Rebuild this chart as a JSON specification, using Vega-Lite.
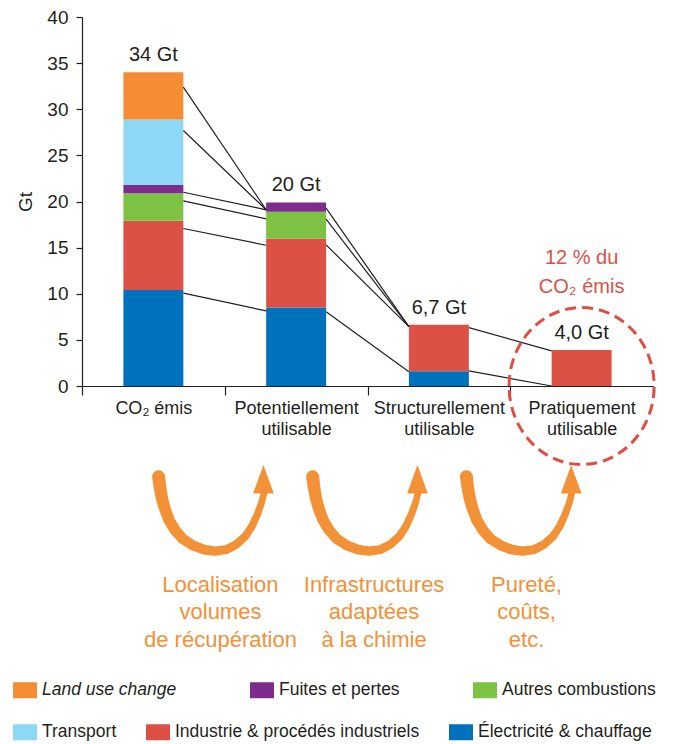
{
  "$schema": "https://vega.github.io/schema/vega-lite/v6.json",
  "width": 571,
  "height": 369,
  "autosize": {"type": "none"},
  "padding": {"left": 82, "top": 17, "right": 20, "bottom": 358},
  "config": {"view": {"stroke": null}, "font": "Liberation Sans", "text": {"font": "Liberation Sans"}},
  "datasets": {
    "bars": [
      {"stage": "CO₂ émis", "sector": "Électricité & chauffage", "rank": 1, "gt": 10.4},
      {"stage": "CO₂ émis", "sector": "Industrie & procédés industriels", "rank": 2, "gt": 7.5},
      {"stage": "CO₂ émis", "sector": "Autres combustions", "rank": 3, "gt": 3.0},
      {"stage": "CO₂ émis", "sector": "Fuites et pertes", "rank": 4, "gt": 0.9},
      {"stage": "CO₂ émis", "sector": "Transport", "rank": 5, "gt": 7.1},
      {"stage": "CO₂ émis", "sector": "Land use change", "rank": 6, "gt": 5.1},
      {"stage": "Potentiellement utilisable", "sector": "Électricité & chauffage", "rank": 1, "gt": 8.5},
      {"stage": "Potentiellement utilisable", "sector": "Industrie & procédés industriels", "rank": 2, "gt": 7.45},
      {"stage": "Potentiellement utilisable", "sector": "Autres combustions", "rank": 3, "gt": 2.95},
      {"stage": "Potentiellement utilisable", "sector": "Fuites et pertes", "rank": 4, "gt": 1.0},
      {"stage": "Structurellement utilisable", "sector": "Électricité & chauffage", "rank": 1, "gt": 1.6},
      {"stage": "Structurellement utilisable", "sector": "Industrie & procédés industriels", "rank": 2, "gt": 5.05},
      {"stage": "Pratiquement utilisable", "sector": "Industrie & procédés industriels", "rank": 2, "gt": 3.9}
    ],
    "totals": [
      {"stage": "CO₂ émis", "total": 34, "label": "34 Gt"},
      {"stage": "Potentiellement utilisable", "total": 19.9, "label": "20 Gt"},
      {"stage": "Structurellement utilisable", "total": 6.65, "label": "6,7 Gt"},
      {"stage": "Pratiquement utilisable", "total": 3.9, "label": "4,0 Gt"}
    ],
    "links": [
      {"from": "CO₂ émis", "to": "Potentiellement utilisable", "y1": 32.4, "y2": 19.1},
      {"from": "CO₂ émis", "to": "Potentiellement utilisable", "y1": 27.7, "y2": 19.1},
      {"from": "CO₂ émis", "to": "Potentiellement utilisable", "y1": 21.0, "y2": 19.1},
      {"from": "CO₂ émis", "to": "Potentiellement utilisable", "y1": 20.07, "y2": 18.12},
      {"from": "CO₂ émis", "to": "Potentiellement utilisable", "y1": 17.07, "y2": 15.26},
      {"from": "CO₂ émis", "to": "Potentiellement utilisable", "y1": 10.06, "y2": 8.14},
      {"from": "Potentiellement utilisable", "to": "Structurellement utilisable", "y1": 19.28, "y2": 6.43},
      {"from": "Potentiellement utilisable", "to": "Structurellement utilisable", "y1": 18.08, "y2": 6.43},
      {"from": "Potentiellement utilisable", "to": "Structurellement utilisable", "y1": 15.3, "y2": 6.43},
      {"from": "Potentiellement utilisable", "to": "Structurellement utilisable", "y1": 8.06, "y2": 1.55},
      {"from": "Structurellement utilisable", "to": "Pratiquement utilisable", "y1": 6.33, "y2": 3.8},
      {"from": "Structurellement utilisable", "to": "Pratiquement utilisable", "y1": 1.63, "y2": 0.0}
    ],
    "highlight": [
      {"stage": "Pratiquement utilisable", "gt": 0}
    ],
    "arrows": [
      {"arrow": 1, "i": 1, "s": 0.537, "v": -9.84},
      {"arrow": 1, "i": 2, "s": 0.546, "v": -10.96},
      {"arrow": 1, "i": 3, "s": 0.560, "v": -12.15},
      {"arrow": 1, "i": 4, "s": 0.581, "v": -13.34},
      {"arrow": 1, "i": 5, "s": 0.610, "v": -14.54},
      {"arrow": 1, "i": 6, "s": 0.652, "v": -15.62},
      {"arrow": 1, "i": 7, "s": 0.708, "v": -16.60},
      {"arrow": 1, "i": 8, "s": 0.778, "v": -17.30},
      {"arrow": 1, "i": 9, "s": 0.855, "v": -17.74},
      {"arrow": 1, "i": 10, "s": 0.932, "v": -17.90},
      {"arrow": 1, "i": 11, "s": 1.009, "v": -17.74},
      {"arrow": 1, "i": 12, "s": 1.079, "v": -17.20},
      {"arrow": 1, "i": 13, "s": 1.142, "v": -16.33},
      {"arrow": 1, "i": 14, "s": 1.191, "v": -15.19},
      {"arrow": 1, "i": 15, "s": 1.229, "v": -13.89},
      {"arrow": 1, "i": 16, "s": 1.257, "v": -12.69},
      {"arrow": 1, "i": 17, "s": 1.275, "v": -11.61},
      {"arrow": 2, "i": 1, "s": 1.616, "v": -9.84},
      {"arrow": 2, "i": 2, "s": 1.625, "v": -10.96},
      {"arrow": 2, "i": 3, "s": 1.639, "v": -12.15},
      {"arrow": 2, "i": 4, "s": 1.660, "v": -13.34},
      {"arrow": 2, "i": 5, "s": 1.689, "v": -14.54},
      {"arrow": 2, "i": 6, "s": 1.731, "v": -15.62},
      {"arrow": 2, "i": 7, "s": 1.787, "v": -16.60},
      {"arrow": 2, "i": 8, "s": 1.857, "v": -17.30},
      {"arrow": 2, "i": 9, "s": 1.934, "v": -17.74},
      {"arrow": 2, "i": 10, "s": 2.011, "v": -17.90},
      {"arrow": 2, "i": 11, "s": 2.088, "v": -17.74},
      {"arrow": 2, "i": 12, "s": 2.158, "v": -17.20},
      {"arrow": 2, "i": 13, "s": 2.221, "v": -16.33},
      {"arrow": 2, "i": 14, "s": 2.270, "v": -15.19},
      {"arrow": 2, "i": 15, "s": 2.308, "v": -13.89},
      {"arrow": 2, "i": 16, "s": 2.336, "v": -12.69},
      {"arrow": 2, "i": 17, "s": 2.354, "v": -11.61},
      {"arrow": 3, "i": 1, "s": 2.693, "v": -9.84},
      {"arrow": 3, "i": 2, "s": 2.702, "v": -10.96},
      {"arrow": 3, "i": 3, "s": 2.716, "v": -12.15},
      {"arrow": 3, "i": 4, "s": 2.737, "v": -13.34},
      {"arrow": 3, "i": 5, "s": 2.766, "v": -14.54},
      {"arrow": 3, "i": 6, "s": 2.808, "v": -15.62},
      {"arrow": 3, "i": 7, "s": 2.864, "v": -16.60},
      {"arrow": 3, "i": 8, "s": 2.934, "v": -17.30},
      {"arrow": 3, "i": 9, "s": 3.011, "v": -17.74},
      {"arrow": 3, "i": 10, "s": 3.088, "v": -17.90},
      {"arrow": 3, "i": 11, "s": 3.165, "v": -17.74},
      {"arrow": 3, "i": 12, "s": 3.235, "v": -17.20},
      {"arrow": 3, "i": 13, "s": 3.298, "v": -16.33},
      {"arrow": 3, "i": 14, "s": 3.347, "v": -15.19},
      {"arrow": 3, "i": 15, "s": 3.385, "v": -13.89},
      {"arrow": 3, "i": 16, "s": 3.413, "v": -12.69},
      {"arrow": 3, "i": 17, "s": 3.431, "v": -11.61}
    ],
    "heads": [
      {"arrow": 1, "s": 1.271, "v": -10.11},
      {"arrow": 2, "s": 2.350, "v": -10.11},
      {"arrow": 3, "s": 3.427, "v": -10.11}
    ],
    "notes": [
      {"s": 0.970, "v": -22.32, "lines": ["Localisation", "volumes", "de récupération"]},
      {"s": 2.046, "v": -22.32, "lines": ["Infrastructures", "adaptées", "à la chimie"]},
      {"s": 3.114, "v": -22.32, "lines": ["Pureté,", "coûts,", "etc."]}
    ]
  },
  "layer": [
    {
      "layer": [
        {
          "data": {"name": "bars"},
          "mark": {"type": "bar", "width": {"band": 0.42}},
          "encoding": {
            "x": {
              "field": "stage", "type": "nominal",
              "scale": {"domain": ["CO₂ émis", "Potentiellement utilisable", "Structurellement utilisable", "Pratiquement utilisable"], "paddingInner": 0, "paddingOuter": 0},
              "axis": {
                "title": null, "labelAngle": 0, "tickBand": "extent", "tickSize": 9,
                "labelFontSize": 18, "labelLineHeight": 21, "labelPadding": 4, "labelLimit": 250,
                "labelColor": "#231F20", "domainColor": "#231F20", "tickColor": "#231F20", "domainWidth": 1.2, "tickWidth": 1.2,
                "labelExpr": "!isValid(datum.value) ? '' : (datum.value == 'CO₂ émis' ? datum.value : split(datum.value, ' '))",
                "encode": {"ticks": {"update": {"opacity": {"signal": "datum.value == 'Pratiquement utilisable' ? 0 : 1"}}}}
              }
            },
            "y": {
              "field": "gt", "type": "quantitative", "stack": "zero",
              "scale": {"domain": [0, 40]},
              "axis": {
                "title": "Gt", "values": [0, 5, 10, 15, 20, 25, 30, 35, 40], "grid": false,
                "tickSize": 6, "labelPadding": 8, "labelFontSize": 19, "titleFontSize": 19, "titleFontWeight": "normal",
                "titlePadding": 11, "labelColor": "#231F20", "titleColor": "#231F20", "domainColor": "#231F20", "tickColor": "#231F20",
                "domainWidth": 1.2, "tickWidth": 1.2
              }
            },
            "order": {"field": "rank", "type": "quantitative", "sort": "ascending"},
            "color": {
              "field": "sector", "type": "nominal",
              "scale": {
                "domain": ["Électricité & chauffage", "Industrie & procédés industriels", "Autres combustions", "Fuites et pertes", "Transport", "Land use change"],
                "range": ["#0071BC", "#DC5046", "#7DC242", "#7E2B8E", "#8DD8F6", "#F58D34"]
              },
              "legend": {
                "values": ["Land use change", "Fuites et pertes", "Autres combustions"],
                "orient": "none", "legendX": -69, "legendY": 661, "direction": "horizontal", "columns": 3,
                "title": null, "padding": 0,
                "symbolType": "M-1,-0.667H1V0.667H-1Z", "symbolSize": 576, "symbolStrokeWidth": 0, "symbolOpacity": 1,
                "labelFontSize": 17.5, "labelOffset": 5, "columnPadding": 73, "labelLimit": 400, "labelColor": "#231F20",
                "encode": {"labels": {"update": {"fontStyle": {"signal": "datum.value == 'Land use change' ? 'italic' : 'normal'"}}}}
              }
            }
          }
        },
        {
          "data": {"name": "bars"},
          "mark": {"type": "bar", "width": {"band": 0.42}, "opacity": 0},
          "encoding": {
            "x": {"field": "stage", "type": "nominal"},
            "y": {"field": "gt", "type": "quantitative", "stack": "zero", "scale": {"domain": [0, 40]}},
            "order": {"field": "rank", "type": "quantitative", "sort": "ascending"},
            "color": {
              "field": "sector", "type": "nominal",
              "scale": {
                "domain": ["Électricité & chauffage", "Industrie & procédés industriels", "Autres combustions", "Fuites et pertes", "Transport", "Land use change"],
                "range": ["#0071BC", "#DC5046", "#7DC242", "#7E2B8E", "#8DD8F6", "#F58D34"]
              },
              "legend": {
                "values": ["Transport", "Industrie & procédés industriels", "Électricité & chauffage"],
                "orient": "none", "legendX": -69, "legendY": 703, "direction": "horizontal", "columns": 3,
                "title": null, "padding": 0,
                "symbolType": "M-1,-0.667H1V0.667H-1Z", "symbolSize": 576, "symbolStrokeWidth": 0, "symbolOpacity": 1,
                "labelFontSize": 17.5, "labelOffset": 5, "columnPadding": 29, "labelLimit": 400, "labelColor": "#231F20"
              }
            }
          }
        },
        {
          "data": {"name": "links"},
          "mark": {"type": "rule", "color": "#231F20", "strokeWidth": 1.2},
          "encoding": {
            "x": {"field": "from", "type": "nominal", "bandPosition": 0.71},
            "x2": {"field": "to", "bandPosition": 0.29},
            "y": {"field": "y1", "type": "quantitative", "scale": {"domain": [0, 40]}},
            "y2": {"field": "y2"}
          }
        },
        {
          "data": {"name": "totals"},
          "mark": {"type": "text", "dy": -11, "baseline": "alphabetic", "fontSize": 20, "color": "#231F20"},
          "encoding": {
            "x": {"field": "stage", "type": "nominal"},
            "y": {"field": "total", "type": "quantitative", "scale": {"domain": [0, 40]}},
            "text": {"field": "label"}
          }
        },
        {
          "data": {"name": "totals"},
          "transform": [{"filter": "datum.stage == 'Pratiquement utilisable'"}],
          "mark": {"type": "text", "dy": -86, "baseline": "alphabetic", "fontSize": 20, "color": "#DE4F43", "lineHeight": 29.4},
          "encoding": {
            "x": {"field": "stage", "type": "nominal"},
            "y": {"field": "total", "type": "quantitative", "scale": {"domain": [0, 40]}},
            "text": {"value": ["12 % du", "CO₂ émis"]}
          }
        },
        {
          "data": {"name": "highlight"},
          "mark": {"type": "point", "shape": "M-0.924,0A0.924,1,0,1,1,0.924,0A0.924,1,0,1,1,-0.924,0Z", "size": 24650, "filled": false, "stroke": "#DE4F43", "strokeWidth": 3, "strokeDash": [11, 6], "opacity": 1},
          "encoding": {
            "x": {"field": "stage", "type": "nominal"},
            "y": {"field": "gt", "type": "quantitative", "scale": {"domain": [0, 40]}}
          }
        }
      ],
      "resolve": {"scale": {"color": "independent"}}
    },
    {
      "layer": [
        {
          "data": {"name": "arrows"},
          "mark": {"type": "trail", "color": "#F39137"},
          "encoding": {
            "x": {"field": "s", "type": "quantitative", "scale": {"domain": [0, 4], "nice": false, "zero": false}, "axis": null},
            "y": {"field": "v", "type": "quantitative", "scale": {"domain": [0, 40]}},
            "detail": {"field": "arrow"},
            "order": {"field": "i"},
            "size": {"field": "i", "type": "quantitative", "scale": {"domain": [1, 17], "range": [13, 6.5]}, "legend": null}
          }
        },
        {
          "data": {"name": "heads"},
          "mark": {"type": "point", "shape": "M0,-1L-0.73,1L0.73,1Z", "size": 801, "filled": true, "color": "#F39137", "opacity": 1, "strokeWidth": 0},
          "encoding": {
            "x": {"field": "s", "type": "quantitative"},
            "y": {"field": "v", "type": "quantitative", "scale": {"domain": [0, 40]}}
          }
        },
        {
          "data": {"name": "notes"},
          "mark": {"type": "text", "fontSize": 22, "color": "#F39137", "baseline": "alphabetic", "lineHeight": 27.5},
          "encoding": {
            "x": {"field": "s", "type": "quantitative"},
            "y": {"field": "v", "type": "quantitative", "scale": {"domain": [0, 40]}},
            "text": {"field": "lines"}
          }
        }
      ]
    }
  ],
  "resolve": {"scale": {"x": "independent", "color": "independent"}}
}
